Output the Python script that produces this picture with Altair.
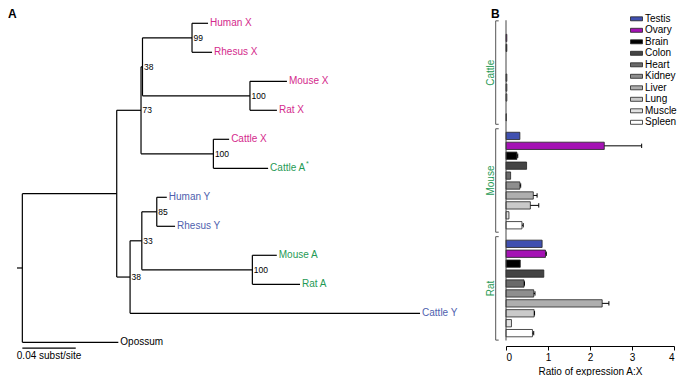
import altair as alt
import pandas as pd

# ---------------- Panel A: phylogenetic tree ----------------
node_name = ["root", "P", "n73", "n38", "hrX", "Human X", "Rhesus X", "mrX", "Mouse X", "Rat X",
             "cXA", "Cattle X", "Cattle A", "Q", "R", "hrY", "Human Y", "Rhesus Y", "mrA",
             "Mouse A", "Rat A", "Cattle Y", "Opossum"]
node_parent = [None, "root", "P", "n73", "n38", "hrX", "hrX", "n38", "mrX", "mrX",
               "n73", "cXA", "cXA", "P", "Q", "R", "hrY", "hrY", "R",
               "mrA", "mrA", "Q", "root"]
branch_len = [0.004, 0.0707, 0.0182, 0.0011, 0.0371, 0.0120, 0.0150, 0.0805, 0.0277, 0.0202,
              0.0542, 0.0118, 0.0410, 0.0100, 0.0088, 0.0112, 0.0075, 0.0137, 0.0828,
              0.0183, 0.0357, 0.2172, 0.0719]
support_node = ["hrX", "mrX", "n38", "n73", "cXA", "hrY", "R", "Q", "mrA"]
support_val = ["99", "100", "38", "73", "100", "85", "33", "38", "100"]
superscript_leaf = ["Cattle A"]
scale_bar_len = 0.04
scale_bar_text = "0.04 subst/site"

COL_X, COL_Y, COL_A = "#d42a8c", "#4f5fae", "#1f9a55"

children = {n: [] for n in node_name}
for n, p in zip(node_name, node_parent):
    if p is not None:
        children[p].append(n)
blen = dict(zip(node_name, branch_len))
par = dict(zip(node_name, node_parent))

xpos, ypos = {}, {}
leaf_counter = [0]


def walk(n, x0):
    xpos[n] = x0 + blen[n]
    if not children[n]:
        ypos[n] = leaf_counter[0]
        leaf_counter[0] += 1
    else:
        for c in children[n]:
            walk(c, xpos[n])
        ypos[n] = (ypos[children[n][0]] + ypos[children[n][-1]]) / 2


walk("root", 0.0)

hseg = []
for n in node_name:
    x_start = 0.0 if par[n] is None else xpos[par[n]]
    hseg.append({"x": x_start, "x2": xpos[n], "y": ypos[n]})
vseg = [{"x": xpos[n], "y": ypos[children[n][0]], "y2": ypos[children[n][-1]]}
        for n in node_name if children[n]]


def leaf_col(n):
    if n.endswith(" X"):
        return COL_X
    if n.endswith(" Y"):
        return COL_Y
    if n.endswith(" A"):
        return COL_A
    return "#000000"


leaves = [{"x": xpos[n], "y": ypos[n], "label": n, "col": leaf_col(n)}
          for n in node_name if not children[n]]
sups = [{"x": xpos[n], "y": ypos[n], "label": v} for n, v in zip(support_node, support_val)]
star = [{"x": xpos[n], "y": ypos[n], "label": "*", "col": leaf_col(n)} for n in superscript_leaf]
n_leaves = leaf_counter[0]
sbar = [{"x": xpos["root"], "x2": xpos["root"] + scale_bar_len, "y": n_leaves - 1 + 0.2,
         "ty": n_leaves - 1 + 0.47, "tx": xpos["root"] + scale_bar_len / 2, "label": scale_bar_text}]

tx = alt.Scale(domain=[0, 0.3], range=[9, 409.5])
ty = alt.Scale(domain=[0, n_leaves - 1], range=[15.3, 334.3])


def TX(f):
    return alt.X(f, scale=tx, axis=None)


def TY(f):
    return alt.Y(f, scale=ty, axis=None)


h_rules = alt.Chart(alt.Data(values=hseg)).mark_rule(color="black", strokeWidth=1.2).encode(
    x=TX("x:Q"), x2="x2:Q", y=TY("y:Q"))
v_rules = alt.Chart(alt.Data(values=vseg)).mark_rule(color="black", strokeWidth=1.2).encode(
    x=TX("x:Q"), y=TY("y:Q"), y2="y2:Q")
leaf_text = alt.Chart(alt.Data(values=leaves)).mark_text(
    align="left", baseline="middle", dx=2, fontSize=10).encode(
    x=TX("x:Q"), y=TY("y:Q"), text="label:N", color=alt.Color("col:N", scale=None))
star_text = alt.Chart(alt.Data(values=star)).mark_text(
    align="left", baseline="middle", dx=38, dy=-4, fontSize=7).encode(
    x=TX("x:Q"), y=TY("y:Q"), text="label:N", color=alt.Color("col:N", scale=None))
sup_text = alt.Chart(alt.Data(values=sups)).mark_text(
    align="left", baseline="middle", dx=1.5, fontSize=8.5, color="black").encode(
    x=TX("x:Q"), y=TY("y:Q"), text="label:N")
sbar_rule = alt.Chart(alt.Data(values=sbar)).mark_rule(color="black", strokeWidth=1.2).encode(
    x=TX("x:Q"), x2="x2:Q", y=TY("y:Q"))
sbar_text = alt.Chart(alt.Data(values=sbar)).mark_text(
    align="center", baseline="middle", fontSize=10, color="black").encode(
    x=TX("tx:Q"), y=TY("ty:Q"), text="label:N")

panel_letters = alt.Chart(alt.Data(values=[{"t": "A", "px": 0}, {"t": "B", "px": 483}])).mark_text(
    align="left", baseline="alphabetic", fontSize=12, fontWeight="bold", color="black").encode(
    x=alt.X("px:Q", scale=None, axis=None), y=alt.value(10), text="t:N")

tree = alt.layer(h_rules, v_rules, leaf_text, star_text, sup_text, sbar_rule, sbar_text)

# ---------------- Panel B: expression ratio bars ----------------
species = ["Cattle", "Mouse", "Rat"]
tissues = ["Testis", "Ovary", "Brain", "Colon", "Heart", "Kidney", "Liver", "Lung", "Muscle", "Spleen"]
tissue_colors = ["#4050b0", "#a412b4", "#000000", "#444444", "#6a6a6a", "#8e8e8e",
                 "#aeaeae", "#cacaca", "#e2e2e2", "#ffffff"]
ratio = {
    "Cattle": [0.00, 0.02, 0.02, 0.00, 0.00, 0.02, 0.02, 0.02, 0.00, 0.01],
    "Mouse": [0.33, 2.34, 0.26, 0.49, 0.11, 0.33, 0.65, 0.58, 0.07, 0.38],
    "Rat": [0.86, 0.94, 0.34, 0.90, 0.43, 0.66, 2.29, 0.67, 0.13, 0.63],
}
error = {
    "Cattle": [0, 0, 0, 0, 0, 0, 0, 0, 0, 0],
    "Mouse": [0, 0.89, 0.02, 0, 0, 0.02, 0.09, 0.20, 0, 0.03],
    "Rat": [0, 0.02, 0, 0, 0.01, 0.03, 0.16, 0.01, 0, 0.03],
}
GROUP_STEP = 10.87  # rows per species block (10 bars + gap)

rows = []
for g, sp in enumerate(species):
    for t, ts in enumerate(tissues):
        r, e = ratio[sp][t], error[sp][t]
        rows.append({"species": sp, "tissue": ts, "ratio": r, "err": e, "hi": r + e,
                     "pos": g * GROUP_STEP + t})
bars_df = pd.DataFrame(rows)
err_df = bars_df[bars_df["err"] > 0].copy()
err_df["c0"] = err_df["pos"] - 0.22
err_df["c1"] = err_df["pos"] + 0.22

grp = pd.DataFrame({"species": species,
                    "top": [g * GROUP_STEP - 0.72 for g in range(3)],
                    "bot": [g * GROUP_STEP + 9 + 0.7 for g in range(3)],
                    "mid": [g * GROUP_STEP + 4.5 for g in range(3)]})

bx = alt.Scale(domain=[0, 4], range=[498, 666])
by = alt.Scale(domain=[0, 30], range=[15, 322.8])


def BX(f):
    return alt.X(f, scale=bx)


def BY(f):
    return alt.Y(f, scale=by, axis=None)


bars = alt.Chart(bars_df).mark_bar(orient="horizontal", size=7.3, stroke="#222222",
                                   strokeWidth=0.8).encode(
    x=alt.X("ratio:Q", scale=bx,
            axis=alt.Axis(orient="bottom", values=[0, 1, 2, 3, 4], format="d", tickSize=4,
                          labelFontSize=10, labelPadding=2, title="Ratio of expression A:X",
                          titleFontSize=10, titleFontWeight="normal", titlePadding=4,
                          grid=False, domainColor="black", tickColor="black",
                          labelColor="black", titleColor="black")),
    y=BY("pos:Q"),
    color=alt.Color("tissue:N", scale=alt.Scale(domain=tissues, range=tissue_colors),
                    legend=alt.Legend(title=None, orient="none", legendX=623, legendY=5.3,
                                      symbolType="M-1.2,-0.4L1.2,-0.4L1.2,0.4L-1.2,0.4Z",
                                      symbolSize=100, symbolStrokeColor="#222222",
                                      symbolStrokeWidth=0.8, symbolOpacity=1,
                                      labelFontSize=10, labelOffset=3, rowPadding=0.5,
                                      padding=0, labelColor="black")),
    strokeOpacity=alt.condition("datum.ratio > 0", alt.value(1), alt.value(0)),
)
err_rule = alt.Chart(err_df).mark_rule(color="black", strokeWidth=1).encode(
    x=BX("ratio:Q"), x2="hi:Q", y=BY("pos:Q"))
err_cap = alt.Chart(err_df).mark_rule(color="black", strokeWidth=1).encode(
    x=BX("hi:Q"), y=BY("c0:Q"), y2="c1:Q")

brk_v = alt.Chart(grp).mark_rule(color="#555555", strokeWidth=1).encode(
    x=alt.value(487.7), y=BY("top:Q"), y2="bot:Q")
brk_t = alt.Chart(grp).mark_rule(color="#555555", strokeWidth=1).encode(
    x=alt.value(487.7), x2=alt.value(490.7), y=BY("top:Q"))
brk_b = alt.Chart(grp).mark_rule(color="#555555", strokeWidth=1).encode(
    x=alt.value(487.7), x2=alt.value(490.7), y=BY("bot:Q"))
grp_text = alt.Chart(grp).mark_text(angle=270, align="center", baseline="middle",
                                    fontSize=10, color=COL_A).encode(
    x=alt.value(482.5), y=BY("mid:Q"), text="species:N")
y_line = alt.Chart(alt.Data(values=[{"y0": -0.78, "y1": 31.48, "x0": 0}])).mark_rule(
    color="#444444", strokeWidth=1).encode(
    x=BX("x0:Q"), y=BY("y0:Q"), y2="y1:Q")

panel_b = alt.layer(bars, err_rule, err_cap, y_line, brk_v, brk_t, brk_b, grp_text)

chart = alt.layer(tree, panel_b, panel_letters).resolve_scale(
    x="independent", y="independent", color="independent"
).properties(width=669, height=338, padding=0).configure(
    font="Liberation Sans", view=alt.ViewConfig(stroke=None))

chart.save("out.html", embed_options={"renderer": "svg", "actions": False})
